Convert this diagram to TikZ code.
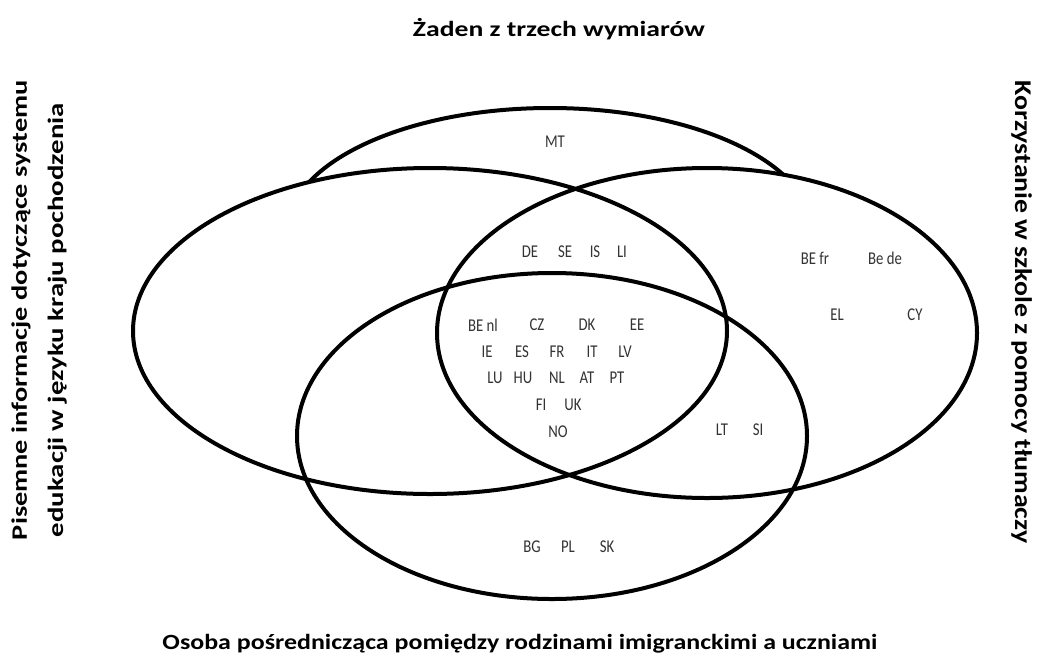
\documentclass[tikz,border=0pt]{standalone}
\usepackage{graphicx}
\usepackage{fontspec}
\setmainfont{Carlito}
\begin{document}
\begin{tikzpicture}[x=1pt,y=-1pt,
  venn/.style={line width=4pt},
  cty/.style={font=\fontsize{18}{18}\selectfont, text=black!80, inner sep=0pt},
  head/.style={font=\fontsize{21.7}{22}\selectfont\bfseries, inner sep=0pt, anchor=base},
  side/.style={font=\fontsize{22}{22}\selectfont\bfseries, inner sep=0pt, anchor=base}]
\useasboundingbox[fill=white] (0,0) rectangle (1040,659);
% three main ellipses
\draw[venn] (430,331) ellipse [x radius=297pt, y radius=163pt];
\draw[venn] (707,333) ellipse [x radius=270pt, y radius=165pt];
\draw[venn] (552,436) ellipse [x radius=255pt, y radius=163pt];
% top ellipse, visible only outside the two upper ellipses
\begin{scope}[even odd rule]
  \clip (-20,-20) rectangle (1060,700) (430,331) ellipse [x radius=297pt, y radius=163pt];
  \begin{scope}[even odd rule]
    \clip (-20,-20) rectangle (1060,700) (707,333) ellipse [x radius=270pt, y radius=165pt];
    \draw[venn] (550,232) ellipse [x radius=263pt, y radius=124pt];
  \end{scope}
\end{scope}
% headings
\node[head] (ttop) at (559,36) {\resizebox{292pt}{\height}{Żaden z trzech wymiarów}};
\node[head] (tbot) at (520,649) {\resizebox{715pt}{\height}{Osoba pośrednicząca pomiędzy rodzinami imigranckimi a uczniami}};
\node[side, rotate=90] (tleft1) at (27,310) {\resizebox{460pt}{\height}{Pisemne informacje dotyczące systemu}};
\node[side, rotate=90] (tleft2) at (63,320) {\resizebox{434pt}{\height}{edukacji w języku kraju pochodzenia}};
\node[side, rotate=-90, font=\fontsize{24}{24}\selectfont\bfseries] (tright) at (1015,312) {\resizebox{463pt}{\height}{Korzystanie w szkole z pomocy tłumaczy}};
% country labels
\newcommand{\cl}[1]{\scalebox{0.82}[1]{#1}}
\node[cty] (mt) at (555,142) {\cl{MT}};
\node[cty] (de) at (530,252) {\cl{DE}};
\node[cty] (se) at (565,252) {\cl{SE}};
\node[cty] (is) at (595,252) {\cl{IS}};
\node[cty] (li) at (622,252) {\cl{LI}};
\node[cty] (benl) at (483,325) {\cl{BE nl}};
\node[cty] (cz) at (537,325) {\cl{CZ}};
\node[cty] (dk) at (587,325) {\cl{DK}};
\node[cty] (ee) at (637,325) {\cl{EE}};
\node[cty] (ie) at (487,352) {\cl{IE}};
\node[cty] (es) at (522,352) {\cl{ES}};
\node[cty] (fr) at (557,352) {\cl{FR}};
\node[cty] (it) at (592,352) {\cl{IT}};
\node[cty] (lv) at (625,352) {\cl{LV}};
\node[cty] (lu) at (495,378) {\cl{LU}};
\node[cty] (hu) at (523,378) {\cl{HU}};
\node[cty] (nl) at (557,378) {\cl{NL}};
\node[cty] (at) at (587,378) {\cl{AT}};
\node[cty] (pt) at (617,378) {\cl{PT}};
\node[cty] (fi) at (541,405) {\cl{FI}};
\node[cty] (uk) at (573,405) {\cl{UK}};
\node[cty] (no) at (558,432) {\cl{NO}};
\node[cty] (befr) at (815,258) {\cl{BE fr}};
\node[cty] (bede) at (885,258) {\cl{Be de}};
\node[cty] (el) at (837,315) {\cl{EL}};
\node[cty] (cy) at (915,315) {\cl{CY}};
\node[cty] (lt) at (722,430) {\cl{LT}};
\node[cty] (si) at (758,430) {\cl{SI}};
\node[cty] (bg) at (532,547) {\cl{BG}};
\node[cty] (pl) at (568,547) {\cl{PL}};
\node[cty] (sk) at (607,547) {\cl{SK}};
\end{tikzpicture}
\end{document}
